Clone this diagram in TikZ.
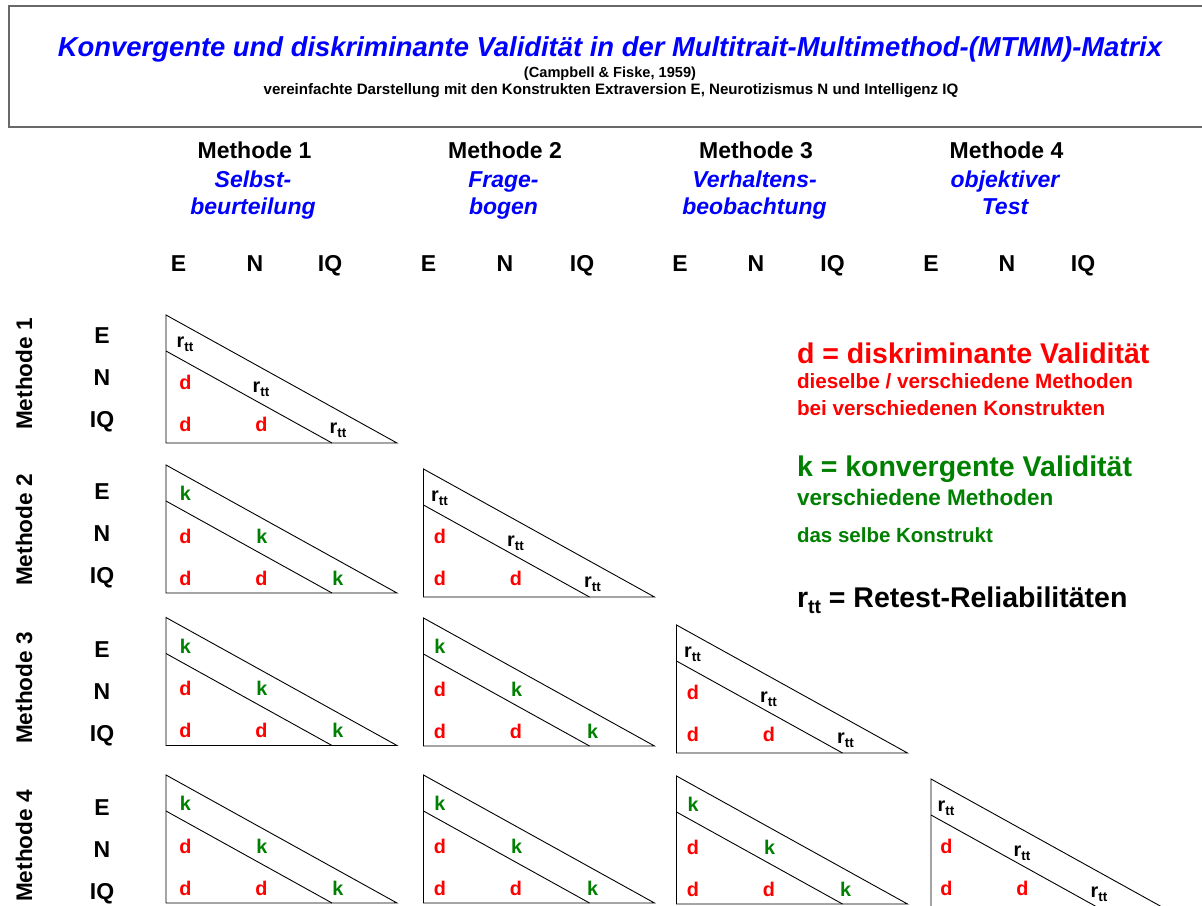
\documentclass[tikz,border=0pt]{standalone}
\usepackage{fontspec}
\setmainfont{Liberation Sans}
\usetikzlibrary{calc}

\definecolor{ttlblue}{RGB}{0,0,255}
\definecolor{dred}{RGB}{255,0,0}
\definecolor{kgreen}{RGB}{0,128,0}
\definecolor{framegray}{RGB}{105,105,105}

\newcommand{\fsz}[1]{\fontsize{#1}{#1}\selectfont}
\newcommand{\rtt}{r\raisebox{-0.22em}{\scalebox{0.68}{tt}}}

\tikzset{
  txt/.style={inner sep=0pt, outer sep=0pt, anchor=base},
  title/.style={txt, text=ttlblue, font=\bfseries\itshape\fsz{27.4}},
  subtitle/.style={txt, font=\bfseries\fsz{#1}},
  methhead/.style={txt, font=\bfseries\fsz{23}},
  methname/.style={txt, text=ttlblue, font=\bfseries\itshape\fsz{23}},
  trait/.style={txt, anchor=base, font=\bfseries\fsz{23}},
  rowmeth/.style={inner sep=0pt, rotate=90, anchor=center, font=\bfseries\fsz{22.6}},
  cell/.style={txt, font=\bfseries\fsz{19.8}},
  dcell/.style={cell, text=dred},
  kcell/.style={cell, text=kgreen},
  rcell/.style={cell, text=black},
  tri/.style={draw=black, line width=0.9pt, line join=miter},
  legbig/.style={txt, anchor=base west, font=\bfseries\fsz{28.5}},
  legsmall/.style={txt, anchor=base west, font=\bfseries\fsz{#1}},
}

\begin{document}
\begin{tikzpicture}[x=1pt, y=-1pt]
\useasboundingbox (0,0) rectangle (1202,905);
\fill[white] (0,0) rectangle (1202,905);

% title frame and headings
\draw[framegray, line width=1.8pt] (9,6) rectangle (1220,127);
\node[title] (ttl) at (610,56) {Konvergente und diskriminante Validität in der Multitrait-Multimethod-(MTMM)-Matrix};
\node[subtitle=14.6] (src) at (610,77) {(Campbell \& Fiske, 1959)};
\node[subtitle=15.1] (sub) at (611,94) {vereinfachte Darstellung mit den Konstrukten Extraversion E, Neurotizismus N und Intelligenz IQ};

% column headings
\foreach \c/\cx/\la/\lb in {1/254.5/Selbst-/beurteilung, 2/505/Frage-/bogen, 3/756/Verhaltens-/beobachtung, 4/1006.5/objektiver/Test}{
  \node[methhead] (mh\c) at (\cx,158) {Methode \c};
  \node[methname] (mna\c) at ({\cx-1.5},187) {\la};
  \node[methname] (mnb\c) at ({\cx-1.5},214) {\lb};
}
\foreach \c/\xe/\xn/\xq in {1/178.5/255/330, 2/428.5/505/582, 3/680/756/832.5, 4/931/1007/1083}{
  \node[trait] (cE\c) at (\xe,271) {E};
  \node[trait] (cN\c) at (\xn,271) {N};
  \node[trait] (cIQ\c) at (\xq,271) {IQ};
}

% row headings
\foreach \r/\b in {1/343, 2/499, 3/657, 4/815}{
  \node[rowmeth] (rm\r) at (24,{\b+31}) {Methode \r};
  \node[trait] (rE\r) at (102,\b) {E};
  \node[trait] (rN\r) at (102,{\b+42}) {N};
  \node[trait] (rIQ\r) at (102,{\b+84}) {IQ};
}

% off-diagonal blocks: convergent (k) and discriminant (d) coefficients
\foreach \r/\c/\x/\y/\dx in {2/1/166/465/0, 3/1/166/617.5/0, 3/2/423.5/618/-3, 4/1/166/775/0, 4/2/423.5/775/-3, 4/3/676.5/776/-3}{
  \begin{scope}[shift={(\x,\y)}]
    \coordinate (T-\r-\c-a) at (0,0);
    \coordinate (T-\r-\c-b) at (0,128);
    \coordinate (T-\r-\c-e) at (231,128);
    \coordinate (T-\r-\c-i) at (0,36);
    \coordinate (T-\r-\c-j) at (166,128);
    \draw[tri] (T-\r-\c-a) -- (T-\r-\c-b) -- (T-\r-\c-e) -- cycle;
    \draw[tri] (T-\r-\c-i) -- (T-\r-\c-j);
    \node[kcell] (k-\r-\c-1) at ({19.5+\dx},35.5) {k};
    \node[kcell] (k-\r-\c-2) at ({96+\dx},78) {k};
    \node[kcell] (k-\r-\c-3) at ({172+\dx},120) {k};
    \node[dcell] (d-\r-\c-21) at ({19.5+\dx},78) {d};
    \node[dcell] (d-\r-\c-31) at ({19.5+\dx},120) {d};
    \node[dcell] (d-\r-\c-32) at ({95.5+\dx},120) {d};
  \end{scope}
}

% diagonal blocks: retest reliabilities
\foreach \r/\x/\y/\dx in {1/166/315/0, 2/423.5/469/-3, 3/676.5/625/-3, 4/931/779/-4}{
  \begin{scope}[shift={(\x,\y)}]
    \coordinate (T-\r-\r-a) at (0,0);
    \coordinate (T-\r-\r-b) at (0,128);
    \coordinate (T-\r-\r-e) at (231,128);
    \coordinate (T-\r-\r-i) at (0,36);
    \coordinate (T-\r-\r-j) at (166,128);
    \draw[tri] (T-\r-\r-a) -- (T-\r-\r-b) -- (T-\r-\r-e) -- cycle;
    \draw[tri] (T-\r-\r-i) -- (T-\r-\r-j);
    \node[rcell] (r-\r-1) at ({19+\dx},32) {\rtt};
    \node[rcell] (r-\r-2) at ({95+\dx},77) {\rtt};
    \node[rcell] (r-\r-3) at ({172+\dx},118) {\rtt};
    \node[dcell] (d-\r-\r-21) at ({19.5+\dx},74) {d};
    \node[dcell] (d-\r-\r-31) at ({19.5+\dx},116) {d};
    \node[dcell] (d-\r-\r-32) at ({95.5+\dx},116) {d};
  \end{scope}
}

% legend
\node[legbig, text=dred] (lgd) at (797,363) {d = diskriminante Validität};
\node[legsmall=20.7, text=dred] (lgd1) at (797,388) {dieselbe / verschiedene Methoden};
\node[legsmall=20.7, text=dred] (lgd2) at (797,415) {bei verschiedenen Konstrukten};
\node[legbig, text=kgreen] (lgk) at (797,476) {k = konvergente Validität};
\node[legsmall=22.5, text=kgreen] (lgk1) at (797,505) {verschiedene Methoden};
\node[legsmall=20.5, text=kgreen] (lgk2) at (797,542) {das selbe Konstrukt};
\node[legbig, text=black] (lgr) at (797,607) {\rtt{} = Retest-Reliabilitäten};
\end{tikzpicture}
\end{document}
